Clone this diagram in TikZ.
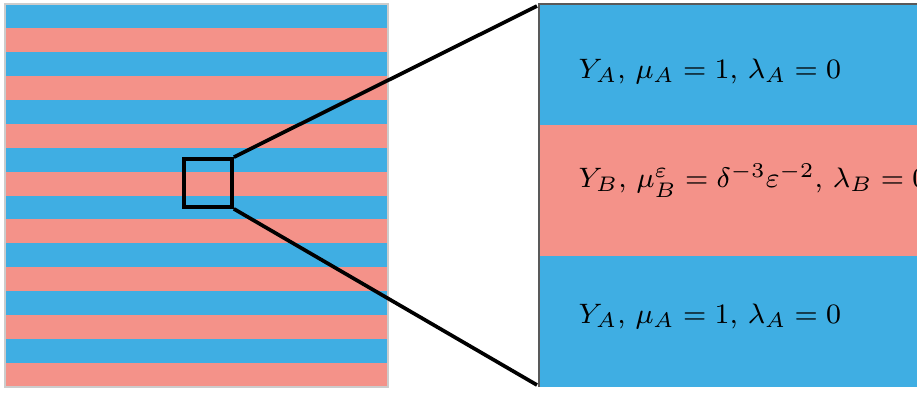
\documentclass[tikz,border=0pt]{standalone}
\usepackage{tikz}
\usetikzlibrary{positioning,calc}
\definecolor{stripeA}{RGB}{63,174,227}
\definecolor{stripeB}{RGB}{244,146,137}
\tikzset{
  zoomline/.style={line width=1.05pt,black},
  lbl/.style={anchor=base west,inner sep=0pt,font=\fontsize{8.5}{10}\selectfont},
}

\begin{document}
\begin{tikzpicture}
\useasboundingbox (0,0) rectangle (9.17,-3.94);
\clip (0,0) rectangle (9.17,-3.94);
% striped layers
\foreach \k in {0,...,15}{
  \pgfmathsetmacro{\ytop}{-0.04-0.239375*\k}
  \pgfmathsetmacro{\ybot}{\ytop-0.239375}
  \ifodd\k
    \fill[stripeB] (0.05,\ytop) rectangle (3.88,\ybot);
  \else
    \fill[stripeA] (0.05,\ytop) rectangle (3.88,\ybot);
  \fi
}
\draw[gray!40,line width=0.3pt] (0.05,-0.04) rectangle (3.88,-3.87);
% zoom window
\node[draw,zoomline,minimum size=0.48cm,inner sep=0pt] (win) at (2.08,-1.83) {};
% magnified panel
\fill[stripeA] (5.39,-0.04) rectangle (9.17,-1.25);
\fill[stripeB] (5.39,-1.25) rectangle (9.17,-2.56);
\fill[stripeA] (5.39,-2.56) rectangle (9.17,-3.87);
\draw[gray!70!black,line width=0.4pt] (9.2,-0.04) -- (5.39,-0.04) -- (5.39,-3.87);
\coordinate (panel-nw) at (5.37,-0.06);
\coordinate (panel-sw) at (5.37,-3.85);
\draw[zoomline] (win.north east) -- (panel-nw);
\draw[zoomline] (win.south east) -- (panel-sw);
% labels
\node[lbl] (topA) at (5.78,-0.78) {$Y_A,\, \mu_A=1,\, \lambda_A=0$};
\node[lbl] (midB) at (5.78,-1.87) {$Y_B,\, \mu_B^{\varepsilon}=\delta^{-3}\varepsilon^{-2},\, \lambda_B=0$};
\node[lbl] (botA) at (5.78,-3.23) {$Y_A,\, \mu_A=1,\, \lambda_A=0$};
\end{tikzpicture}
\end{document}
